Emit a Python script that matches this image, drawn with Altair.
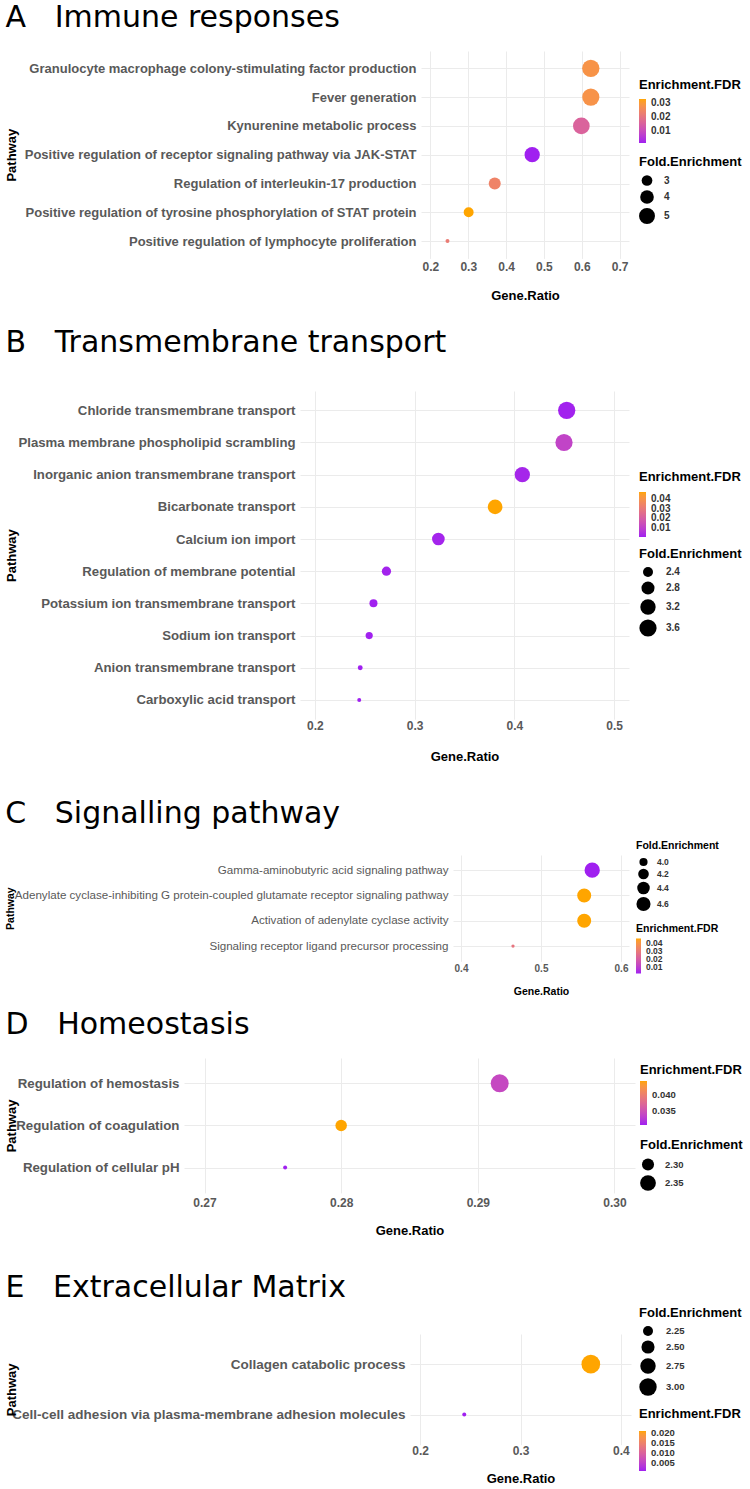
import altair as alt
import pandas as pd

FONT = "Liberation Sans"
TITLE_FONT = "DejaVu Sans"
LOW, HIGH = "#A020F0", "#FFA500"   # purple -> orange FDR gradient

# ---------------- A: Immune responses ----------------
a_path = [
    "Granulocyte macrophage colony-stimulating factor production",
    "Fever generation",
    "Kynurenine metabolic process",
    "Positive regulation of receptor signaling pathway via JAK-STAT",
    "Regulation of interleukin-17 production",
    "Positive regulation of tyrosine phosphorylation of STAT protein",
    "Positive regulation of lymphocyte proliferation",
]
a_ratio = [0.624, 0.624, 0.599, 0.469, 0.370, 0.301, 0.245]
a_fold = [5.70, 5.66, 5.38, 4.70, 3.40, 2.83, 2.10]
a_fdr = [0.0282, 0.0280, 0.0156, 0.0014, 0.0240, 0.0329, 0.0220]

# ---------------- B: Transmembrane transport ----------------
b_path = [
    "Chloride transmembrane transport",
    "Plasma membrane phospholipid scrambling",
    "Inorganic anion transmembrane transport",
    "Bicarbonate transport",
    "Calcium ion import",
    "Regulation of membrane potential",
    "Potassium ion transmembrane transport",
    "Sodium ion transport",
    "Anion transmembrane transport",
    "Carboxylic acid transport",
]
b_ratio = [0.4525, 0.4498, 0.4080, 0.3807, 0.3238, 0.2717, 0.2587, 0.2544, 0.2454, 0.2444]
b_fold = [3.62, 3.60, 3.19, 3.08, 2.74, 2.33, 2.23, 2.18, 2.10, 2.09]
b_fdr = [0.0012, 0.0109, 0.0021, 0.0472, 0.0018, 0.0015, 0.0010, 0.0009, 0.0007, 0.0008]

# ---------------- C: Signalling pathway ----------------
c_path = [
    "Gamma-aminobutyric acid signaling pathway",
    "Adenylate cyclase-inhibiting G protein-coupled glutamate receptor signaling pathway",
    "Activation of adenylate cyclase activity",
    "Signaling receptor ligand precursor processing",
]
c_ratio = [0.564, 0.554, 0.554, 0.465]
c_fold = [4.78, 4.59, 4.59, 3.85]
c_fdr = [0.0018, 0.0459, 0.0459, 0.0283]

# ---------------- D: Homeostasis ----------------
d_path = [
    "Regulation of hemostasis",
    "Regulation of coagulation",
    "Regulation of cellular pH",
]
d_ratio = [0.2916, 0.2800, 0.2759]
d_fold = [2.390, 2.294, 2.255]
d_fdr = [0.0341, 0.0443, 0.0307]

# ---------------- E: Extracellular Matrix ----------------
e_path = [
    "Collagen catabolic process",
    "Cell-cell adhesion via plasma-membrane adhesion molecules",
]
e_ratio = [0.370, 0.244]
e_fold = [3.20, 2.06]
e_fdr = [0.0208, 0.0008]


def area_scale(values, dmin, dmax):
    """ggplot-style area palette: diameter grows with sqrt of the rescaled value."""
    lo, hi = min(values), max(values)
    steps = [k / 10 for k in range(11)]
    dom = [lo + (hi - lo) * s * s for s in steps]
    rng = [(dmin + (dmax - dmin) * s) ** 2 for s in steps]
    return alt.Scale(domain=dom, range=rng)


def panel(letter, name, paths, ratio, fold, fdr, p):
    df = pd.DataFrame({"Pathway": paths, "GeneRatio": ratio,
                       "FoldEnrichment": fold, "EnrichmentFDR": fdr})
    lab = p.get("lab", 13)
    small = p.get("small", 12)
    at = p.get("at", 13)
    color_legend = alt.Legend(
        title="Enrichment.FDR", orient="none",
        legendX=p["legx"], legendY=p["fdr_y"],
        values=p["fdr_vals"], format=p["fdr_fmt"],
        gradientLength=p["glen"], gradientThickness=p.get("gthick", 7),
        gradientStrokeWidth=0, direction="vertical",
        titleFontSize=p.get("lt", 13), titleFont=FONT, titleFontWeight="bold",
        titleColor="black", titlePadding=p.get("gpad", 6),
        labelFontSize=p.get("ll", 10), labelFont=FONT, labelFontWeight="bold",
        labelColor="#333333", labelOffset=5, labelOverlap=False, padding=0,
    )
    size_legend = alt.Legend(
        title="Fold.Enrichment", orient="none",
        legendX=p["legx"], legendY=p["fold_y"],
        values=p["fold_vals"], format=p["fold_fmt"],
        symbolType="circle", symbolFillColor="black", symbolStrokeColor="black",
        symbolStrokeWidth=0, symbolOpacity=1,
        titleFontSize=p.get("lt", 13), titleFont=FONT, titleFontWeight="bold",
        titleColor="black", titlePadding=p.get("spad", 6),
        labelFontSize=p.get("ll", 10), labelFont=FONT, labelFontWeight="bold",
        labelColor="#333333", labelOffset=p.get("loff", 9), rowPadding=p.get("rpad", 4),
        padding=0,
    )
    chart = alt.Chart(df).mark_circle(opacity=1).encode(
        x=alt.X("GeneRatio:Q",
                scale=alt.Scale(domain=p["xdom"], nice=False, zero=False),
                axis=alt.Axis(values=p["xticks"], format=p["xfmt"], title="Gene.Ratio",
                              labelFontSize=small, labelFont=FONT, labelFontWeight="bold",
                              labelColor="#595959", labelPadding=p.get("tpad", 3),
                              labelFlush=False, ticks=False, tickSize=0, domain=False,
                              grid=True, gridColor="#EBEBEB", gridWidth=1,
                              titleFontSize=at, titleFont=FONT,
                              titleFontWeight="bold", titleColor="black",
                              titleY=p["gr_y"], titleBaseline="middle")),
        y=alt.Y("Pathway:N", sort=paths,
                scale=alt.Scale(type="point", padding=0.6),
                axis=alt.Axis(title="Pathway", labelFontSize=lab, labelFont=FONT,
                              labelFontWeight=p.get("lw", "bold"), labelColor="#595959",
                              labelPadding=5, labelLimit=0, ticks=False, tickSize=0,
                              domain=False, grid=True, gridColor="#EBEBEB", gridWidth=1,
                              titleFontSize=at, titleFont=FONT,
                              titleFontWeight="bold", titleColor="black",
                              titleX=6 + at / 2 - p["left"], titleAngle=270,
                              titleBaseline="middle", titleAlign="center")),
        color=alt.Color("EnrichmentFDR:Q",
                        scale=alt.Scale(domain=[min(fdr), max(fdr)], range=[LOW, HIGH],
                                        interpolate="lab", nice=False, zero=False),
                        legend=color_legend),
        size=alt.Size("FoldEnrichment:Q", scale=area_scale(fold, p["dmin"], p["dmax"]),
                      legend=size_legend),
    ).properties(
        width=p["width"], height=p["height"],
        title=alt.TitleParams(letter + "\u00a0\u00a0\u00a0" + name, anchor="start",
                              fontSize=30, font=TITLE_FONT, fontWeight="normal",
                              color="black", offset=p["toff"]),
    )
    return chart


def row(chart, depth):
    # an empty strip on the left of each panel; its height sets where the next panel begins
    strip = alt.Chart(pd.DataFrame({"g": [0]})).mark_text(
        text="", align="left", baseline="top"
    ).encode(x=alt.value(0), y=alt.value(0)).properties(width=1, height=depth)
    return alt.hconcat(strip, chart, spacing=0).resolve_scale(
        color="independent", size="independent"
    ).resolve_legend(color="independent", size="independent")


pa = dict(left=422, width=208, height=207.4, xdom=[0.175, 0.725],
          xticks=[0.2, 0.3, 0.4, 0.5, 0.6, 0.7], xfmt=".1f", gr_y=36.6, tpad=3,
          legx=218, fdr_y=28, fold_y=105, glen=44, gpad=7,
          fdr_vals=[0.01, 0.02, 0.03], fdr_fmt=".2f",
          fold_vals=[3, 4, 5], fold_fmt="d", dmin=4, dmax=17.3, toff=18)
pb = dict(left=301, width=329, height=328.2, xdom=[0.185, 0.515], lab=13.2,
          xticks=[0.2, 0.3, 0.4, 0.5], xfmt=".1f", gr_y=37, tpad=1,
          legx=339, fdr_y=80, fold_y=157, glen=45, gpad=8, ll=10,
          fdr_vals=[0.01, 0.02, 0.03, 0.04], fdr_fmt=".2f",
          fold_vals=[2.4, 2.8, 3.2, 3.6], fold_fmt=".1f", dmin=4, dmax=17.3, toff=33)
pc = dict(left=454, width=176, height=106.3, xdom=[0.39, 0.61],
          xticks=[0.4, 0.5, 0.6], xfmt=".1f", gr_y=30, tpad=2,
          lab=11.6, lw="normal", small=10, at=10.5, lt=10.5, ll=8.5,
          legx=183, fdr_y=69, fold_y=-14, glen=35, gthick=5, gpad=4,
          fdr_vals=[0.01, 0.02, 0.03, 0.04], fdr_fmt=".2f",
          fold_vals=[4.0, 4.2, 4.4, 4.6], fold_fmt=".1f", dmin=3.3, dmax=15.3,
          loff=6, rpad=2, toff=12)
pd_ = dict(left=185, width=451, height=134.9, xdom=[0.2685, 0.3015], lab=13.3,
           xticks=[0.27, 0.28, 0.29, 0.30], xfmt=".2f", gr_y=37.4, tpad=4.5,
           legx=456, fdr_y=6, fold_y=81, glen=44, gpad=4, ll=9.5,
           fdr_vals=[0.035, 0.040], fdr_fmt=".3f",
           fold_vals=[2.30, 2.35], fold_fmt=".2f", dmin=4, dmax=18, toff=18)
pe = dict(left=411, width=221, height=110.7, xdom=[0.19, 0.41], lab=13.5,
          xticks=[0.2, 0.3, 0.4], xfmt=".1f", gr_y=33.8, tpad=1,
          legx=229, fdr_y=74, fold_y=-27, glen=40, gpad=10, ll=9.5,
          fdr_vals=[0.005, 0.010, 0.015, 0.020], fdr_fmt=".3f",
          fold_vals=[2.25, 2.50, 2.75, 3.00], fold_fmt=".2f", dmin=4, dmax=18.7, toff=4)

chart = alt.vconcat(
    row(panel("A", "Immune responses", a_path, a_ratio, a_fold, a_fdr, pa), 277),
    row(panel("B", "Transmembrane transport", b_path, b_ratio, b_fold, b_fdr, pb), 408),
    row(panel("C", "Signalling pathway", c_path, c_ratio, c_fold, c_fdr, pc), 155),
    row(panel("D", "Homeostasis", d_path, d_ratio, d_fold, d_fdr, pd_), 215),
    row(panel("E", "Extracellular Matrix", e_path, e_ratio, e_fold, e_fdr, pe), 1),
    spacing=0,
).resolve_scale(
    x="independent", y="independent", color="independent", size="independent"
).resolve_legend(
    color="independent", size="independent"
).properties(
    padding={"left": 4, "top": 3, "right": 2, "bottom": 2}
).configure(
    font=FONT
).configure_view(
    stroke="transparent", strokeWidth=0
)

chart.save("out.html", embed_options={"renderer": "svg", "actions": False})
